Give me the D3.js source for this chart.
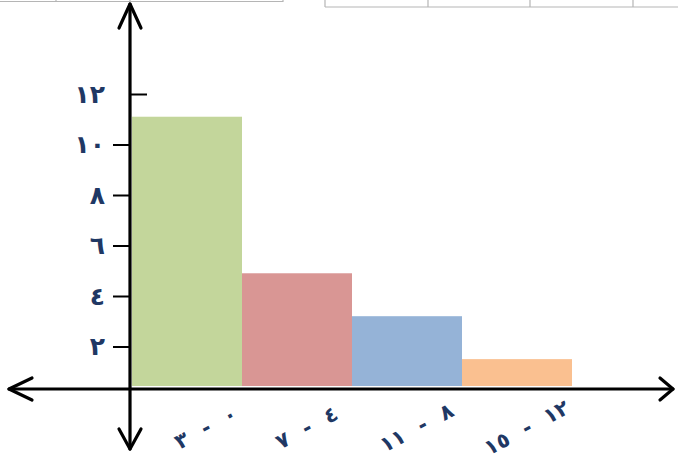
<!DOCTYPE html>
<html>
<head>
<meta charset="utf-8">
<script src="https://cdn.jsdelivr.net/npm/d3@7"></script>
<style>
  body { margin: 0; background: #fff; }
  svg { display: block; }
</style>
</head>
<body>
<div id="chart"></div>
<script>
// histogram data
var categories = ["٠ - ٣", "٤ - ٧", "٨ - ١١", "١٢ - ١٥"];
var counts = [11.1, 4.9, 3.2, 1.5];
var barColors = ["#c3d69b", "#d99694", "#95b3d7", "#fac090"];
var yTickValues = [2, 4, 6, 8, 10, 12];
var yTickLabels = ["٢", "٤", "٦", "٨", "١٠", "١٢"];

var width = 678;
var height = 459;
var ink = "#1f3864";

var svg = d3.select("#chart").append("svg")
    .attr("width", width)
    .attr("height", height);

svg.append("rect").attr("width", width).attr("height", height).attr("fill", "#fff");

// bits of the page's tables cut off at the top
var grid = svg.append("g").attr("stroke", "#b5b5b5").attr("stroke-width", 1.2);
grid.append("line").attr("x1", 0).attr("x2", 283).attr("y1", 1.5).attr("y2", 1.5);
[56, 130, 283].forEach(function(x) {
    grid.append("line").attr("x1", x).attr("x2", x).attr("y1", 0).attr("y2", 2);
});
grid.append("line").attr("x1", 325).attr("x2", 678).attr("y1", 7).attr("y2", 7);
[325, 428, 530, 633].forEach(function(x) {
    grid.append("line").attr("x1", x).attr("x2", x).attr("y1", 0).attr("y2", 7);
});

// scales
var x = d3.scaleBand()
    .domain(categories)
    .range([132, 572])
    .padding(0);

var y = d3.scaleLinear()
    .domain([0, 12])
    .range([397, 94]);

var axisX = 130;      // where the vertical axis sits
var axisY = 389;      // where the horizontal axis sits
var barBase = 386;

// bars
svg.selectAll(".bar")
    .data(counts)
    .enter().append("rect")
    .attr("class", "bar")
    .attr("x", function(d, i) { return x(categories[i]); })
    .attr("width", x.bandwidth())
    .attr("y", function(d) { return y(d); })
    .attr("height", function(d) { return barBase - y(d); })
    .attr("fill", function(d, i) { return barColors[i]; });

// y axis ticks + labels
var yAxis = d3.axisLeft(y)
    .tickValues(yTickValues)
    .tickSize(17)
    .tickPadding(8)
    .tickFormat(function(d, i) { return yTickLabels[i]; });

var gy = svg.append("g")
    .attr("transform", "translate(" + axisX + ",0)")
    .call(yAxis);

gy.select(".domain").remove();
gy.selectAll(".tick line")
    .attr("stroke", "#000")
    .attr("stroke-width", 2);
// the top tick crosses the axis
gy.selectAll(".tick line")
    .filter(function(d) { return d === 12; })
    .attr("x2", 17);
gy.selectAll(".tick text")
    .style("font-family", "'DejaVu Sans', sans-serif")
    .style("font-weight", "bold")
    .style("font-size", "25px")
    .style("letter-spacing", "3px")
    .attr("fill", ink);

// axis lines with open arrow heads
var axes = svg.append("g")
    .attr("stroke", "#000")
    .attr("stroke-width", 3.2)
    .attr("fill", "none")
    .attr("stroke-linecap", "round")
    .attr("stroke-linejoin", "round");

axes.append("line").attr("x1", axisX).attr("x2", axisX).attr("y1", 4).attr("y2", 449);
axes.append("line").attr("x1", 9).attr("x2", 673).attr("y1", axisY).attr("y2", axisY);

var arrow = d3.line();
axes.append("path").attr("d", arrow([[axisX - 11, 28], [axisX, 4], [axisX + 11, 28]]));
axes.append("path").attr("d", arrow([[axisX - 11, 429], [axisX, 449], [axisX + 11, 429]]));
axes.append("path").attr("d", arrow([[32, axisY - 11], [9, axisY], [32, axisY + 11]]));
axes.append("path").attr("d", arrow([[660, axisY - 11], [673, axisY], [660, axisY + 11]]));

// slanted category labels
svg.selectAll(".xlabel")
    .data(categories)
    .enter().append("text")
    .attr("class", "xlabel")
    .attr("transform", function(d, i) {
        var cx = x(d) + x.bandwidth() / 2 + (i === 0 ? 22 : 13);
        return "translate(" + cx + ",434) rotate(-28)";
    })
    .attr("direction", "rtl")
    .attr("text-anchor", "middle")
    .style("font-family", "'DejaVu Sans', sans-serif")
    .style("font-weight", "bold")
    .style("font-size", "21px")
    .style("word-spacing", "9px")
    .attr("fill", ink)
    .text(function(d) { return d; });
</script>
</body>
</html>
